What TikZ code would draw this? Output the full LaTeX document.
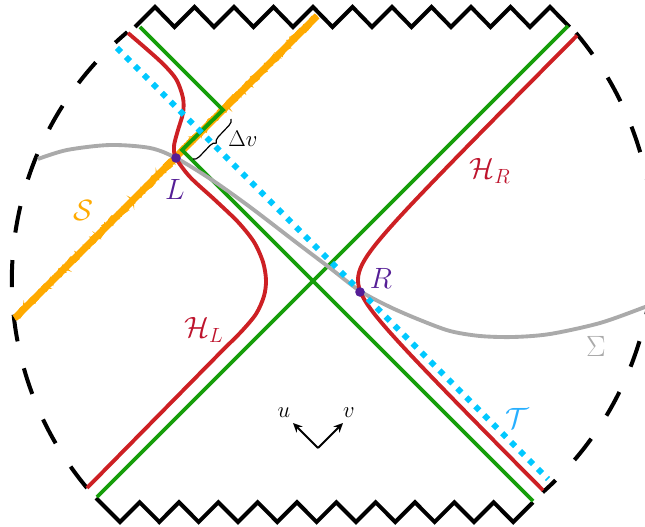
\RequirePackage{fix-cm}
\documentclass[tikz,border=0pt]{standalone}
\usetikzlibrary{decorations.pathreplacing,decorations.pathmorphing,arrows.meta}
\definecolor{hred}{RGB}{205,32,36}
\definecolor{hgreen}{RGB}{22,158,10}
\definecolor{orng}{RGB}{255,170,0}
\definecolor{tcyan}{RGB}{0,200,255}
\definecolor{tlab}{RGB}{40,175,255}
\definecolor{siggray}{RGB}{170,170,170}
\definecolor{dotpurple}{RGB}{85,30,150}
\definecolor{hlab}{RGB}{190,20,45}
\tikzset{
  zig/.style={black, line width=3pt, line join=miter},
  hor/.style={hgreen, line width=2.9pt, line join=miter},
  hyp/.style={hred, line width=2.9pt},
  bdry/.style={black, line width=3pt, dash pattern=on 20.25pt off 20.75pt},
  rough/.style={orng, line width=1pt, decorate, decoration={random steps, segment length=2.5pt, amplitude=2.8pt}},
  lab/.style={inner sep=0pt, font=\fontsize{22}{26}\selectfont},
  smalllab/.style={inner sep=0pt, font=\fontsize{17}{20}\selectfont},
  evt/.style={circle, fill=dotpurple, inner sep=0pt, minimum size=7.2pt},
}
\begin{document}
\begin{tikzpicture}[x=0.75pt,y=-0.75pt]
\useasboundingbox (0,0) rectangle (645,527);
\clip (0,0) rectangle (645,527);

% key coordinates
\coordinate (gA) at (140,27);
\coordinate (gB) at (223,110);
\coordinate (gC) at (182,150);
\coordinate (gD) at (533,501);
\coordinate (gE) at (97,497);
\coordinate (gF) at (568,26);
\coordinate (sA) at (15,318);
\coordinate (sB) at (317,16);
\coordinate (tA) at (117,48);
\coordinate (tB) at (548,479);
\coordinate (hLt) at (128,33);
\coordinate (hLb) at (87,488);
\coordinate (hRt) at (576,33);
\coordinate (hRb) at (543,492);

% singularities
\draw[zig] (135,27) \foreach \k in {0,...,10} { -- ({155+39.5*\k},7) -- ({174.5+39.5*\k},27) };
\draw[zig] (96,498) \foreach \k in {0,...,10} { -- ({120+39.33*\k},522) -- ({139.67+39.33*\k},502.3) };

% boundaries
\draw[bdry] (hLb) arc[start angle=140.2, end angle=229.9, radius=324.5];
\draw[bdry] (hRt) arc[start angle=-40.1, end angle=48.4, radius=330];

% shock wave S
\draw[orng, line width=5.2pt] (sA) -- (sB);
\pgfmathsetseed{7}
\draw[rough] (sA) -- (sB);
\pgfmathsetseed{11}
\draw[rough] (sA) -- (sB);
\pgfmathsetseed{23}
\draw[rough] (sA) -- (sB);
\pgfmathsetseed{41}
\draw[rough] (sA) -- (sB);
\pgfmathsetseed{59}
\draw[rough] (sA) -- (sB);

% green horizons
\draw[hor] (gA) -- (gB) -- (gC) -- (gD);
\draw[hor] (gE) -- (gF);

% Sigma
\draw[siggray, line width=2.9pt] plot[smooth] coordinates {(38,159) (67,150) (110,145) (150,148) (176,158) (212,180) (250,207) (297,243) (330,268) (360,291) (390,307) (420,320) (450,331) (480,336) (513,337) (550,334) (600,323) (645,307) (660,301)};

% red horizons
\draw[hyp] plot[smooth] coordinates {(hLt) (160,61) (176,79) (183,98) (183,113) (178,130) (174,146) (176,158) (190,177) (215,200) (238,222) (254,242) (263,262) (266,280) (264,296) (256,314) (240,333) (215,358) (hLb)};
\draw[hyp] plot[domain=2.9:-2.75, samples=80] ({331+27*cosh(\x)}, {280-27*sinh(\x)});

% T
\draw[tcyan, line width=4.3pt, dash pattern=on 4.3pt off 5.2pt] (tA) -- (tB);

% brace
\draw[decorate, decoration={brace, amplitude=4.5pt}, line width=0.9pt] (231,119) -- (193,159);
\node[smalllab] (dv) at (243,139) {$\Delta v$};

% points
\node[evt] (L) at (176,158) {};
\node[evt] (R) at (360,292) {};

% labels
\node[lab, text=dotpurple] (Llab) at (175,189) {$L$};
\node[lab, text=dotpurple] (Rlab) at (381,278) {$R$};
\node[lab, text=orng] (Slab) at (83,210) {$\mathcal{S}$};
\node[lab, text=hlab] (HRlab) at (490,171) {$\mathcal{H}_R$};
\node[lab, text=hlab] (HLlab) at (204,330) {$\mathcal{H}_L$};
\node[lab, text=siggray] (Siglab) at (596,346) {$\Sigma$};
\node[lab, text=tlab] (Tlab) at (517,418) {$\mathcal{T}$};

% u v arrows
\coordinate (o) at (318,448);
\coordinate (ou) at (293,423);
\coordinate (ov) at (343,423);
\draw[-{Stealth[length=7pt,width=6.5pt]}, line width=1.5pt] (o) -- (ou);
\draw[-{Stealth[length=7pt,width=6.5pt]}, line width=1.5pt] (o) -- (ov);
\node[smalllab] (ulab) at (284,413) {$u$};
\node[smalllab] (vlab) at (349,413) {$v$};
\end{tikzpicture}
\end{document}
